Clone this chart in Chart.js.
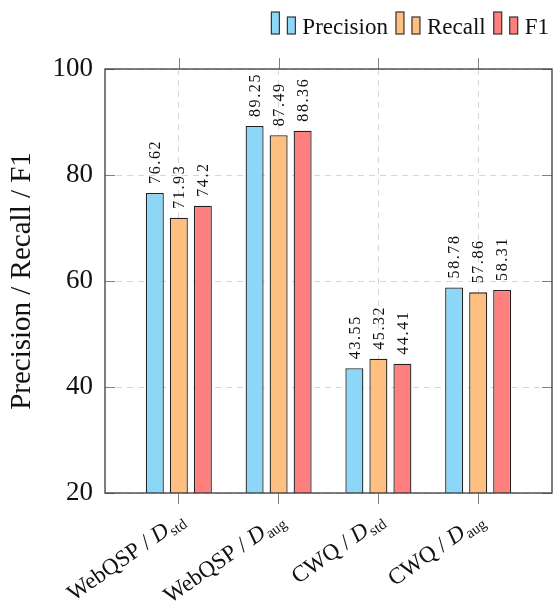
<!DOCTYPE html>
<html>
<head>
<meta charset="utf-8">
<script src="https://cdn.jsdelivr.net/npm/chart.js@4/dist/chart.umd.min.js"></script>
<style>
html,body{margin:0;padding:0;background:#fff;}
#wrap{width:554px;height:602px;}
</style>
</head>
<body>
<div id="wrap"><canvas id="c" width="554" height="602"></canvas></div>
<script>
const categories = ['WebQSP', 'WebQSP', 'CWQ', 'CWQ'];
const subscripts = ['std', 'aug', 'std', 'aug'];
const seriesNames = ['Precision', 'Recall', 'F1'];
const precision = [76.62, 89.25, 43.55, 58.78];
const recall = [71.93, 87.49, 45.32, 57.86];
const f1 = [74.2, 88.36, 44.41, 58.31];
const yTicks = [20, 40, 60, 80, 100];

const fills = ['#8CD7F7', '#FFBF80', '#FF7F7F'];
const SERIF = '"Liberation Serif", "DejaVu Serif", serif';
const series = [precision, recall, f1];

const datasets = series.map((vals, k) => ({
  label: seriesNames[k],
  data: vals.map((v, i) => ({x: i, y: v})),
  backgroundColor: fills[k],
  borderColor: '#222222',
  borderWidth: 1.3,
  borderSkipped: false,
  categoryPercentage: 0.722,
  barPercentage: 0.75
}));

const framePlugin = {
  id: 'frame',
  afterDraw(chart) {
    const ctx = chart.ctx, a = chart.chartArea;
    const xs = chart.scales.x, ys = chart.scales.y;
    ctx.save();
    ctx.strokeStyle = '#808080';
    ctx.lineWidth = 1;
    yTicks.forEach(v => {
      const y = Math.round(ys.getPixelForValue(v)) + 0.5;
      ctx.beginPath();
      ctx.moveTo(a.left, y); ctx.lineTo(a.left + 10, y);
      ctx.moveTo(a.right, y); ctx.lineTo(a.right - 10, y);
      ctx.stroke();
    });
    categories.forEach((c, i) => {
      const x = Math.round(xs.getPixelForValue(i)) + 0.5;
      ctx.beginPath();
      ctx.moveTo(x, a.top); ctx.lineTo(x, a.top - 11);
      ctx.stroke();
    });
    ctx.strokeStyle = '#3a3a3a';
    ctx.lineWidth = 1.3;
    ctx.strokeRect(a.left, a.top, a.right - a.left, a.bottom - a.top);
    ctx.restore();
  }
};

const valueLabelPlugin = {
  id: 'valueLabels',
  afterDatasetsDraw(chart) {
    const ctx = chart.ctx;
    ctx.save();
    ctx.fillStyle = '#111';
    ctx.font = '16px ' + SERIF;
    ctx.letterSpacing = '1.6px';
    ctx.textAlign = 'left';
    ctx.textBaseline = 'middle';
    chart.data.datasets.forEach((ds, k) => {
      const meta = chart.getDatasetMeta(k);
      meta.data.forEach((el, i) => {
        ctx.save();
        ctx.translate(el.x + 1, el.y - 9);
        ctx.rotate(-Math.PI / 2);
        ctx.fillText(String(series[k][i]), 0, 0);
        ctx.restore();
      });
    });
    ctx.restore();
  }
};

const xLabelPlugin = {
  id: 'xLabels',
  afterDraw(chart) {
    const ctx = chart.ctx, xs = chart.scales.x, a = chart.chartArea;
    ctx.save();
    ctx.fillStyle = '#111';
    const ang = -35 * Math.PI / 180;
    categories.forEach((c, i) => {
      const x = xs.getPixelForValue(i);
      const main = c + ' / ';
      const dSym = 'D';
      ctx.font = '23px ' + SERIF;
      const wMain = ctx.measureText(main).width;
      ctx.font = 'italic 23px ' + SERIF;
      const wD = ctx.measureText(dSym).width;
      ctx.font = '15px ' + SERIF;
      const wSub = ctx.measureText(subscripts[i]).width;
      const total = wMain + wD + 1 + wSub;
      ctx.save();
      ctx.translate(x + 7, a.bottom + 30);
      ctx.rotate(ang);
      ctx.textAlign = 'left';
      ctx.textBaseline = 'alphabetic';
      let px = -total;
      ctx.font = '23px ' + SERIF;
      ctx.fillText(main, px, 0); px += wMain;
      ctx.font = 'italic 23px ' + SERIF;
      ctx.fillText(dSym, px, 0); px += wD + 1;
      ctx.font = '15px ' + SERIF;
      ctx.fillText(subscripts[i], px, 4);
      ctx.restore();
    });
    ctx.restore();
  }
};

const legendPlugin = {
  id: 'customLegend',
  afterDraw(chart) {
    const ctx = chart.ctx;
    ctx.save();
    ctx.font = '23px ' + SERIF;
    ctx.textBaseline = 'alphabetic';
    let x = 549;
    const base = 34;
    for (let k = seriesNames.length - 1; k >= 0; k--) {
      const w = ctx.measureText(seriesNames[k]).width;
      x -= w;
      ctx.fillStyle = '#111';
      ctx.fillText(seriesNames[k], x, base);
      x -= 7;
      ctx.fillStyle = fills[k];
      ctx.strokeStyle = '#333';
      ctx.lineWidth = 1.2;
      ctx.fillRect(x - 8, 17, 8, base - 17);
      ctx.strokeRect(x - 8, 17, 8, base - 17);
      x -= 16;
      ctx.fillRect(x - 8, 12, 8, base - 12);
      ctx.strokeRect(x - 8, 12, 8, base - 12);
      x -= 8 + 8;
    }
    ctx.restore();
  }
};

new Chart(document.getElementById('c'), {
  type: 'bar',
  data: { datasets },
  options: {
    responsive: false,
    animation: false,
    devicePixelRatio: 1,
    layout: { padding: { left: 0, right: 2, top: 69, bottom: 0 } },
    plugins: {
      legend: { display: false },
      tooltip: { enabled: false }
    },
    scales: {
      x: {
        type: 'linear',
        min: -0.74,
        max: 3.74,
        offset: false,
        afterBuildTicks(scale) { scale.ticks = categories.map((c, i) => ({value: i})); },
        afterFit(scale) { scale.height = 109; },
        ticks: { display: false },
        grid: {
          offset: false,
          color: '#d6d6d6',
          lineWidth: 1,
          drawTicks: true,
          tickLength: 11,
          tickColor: '#808080',
          tickWidth: 1
        },
        border: { display: false, dash: [6, 5] }
      },
      y: {
        min: 20,
        max: 100,
        afterBuildTicks(scale) { scale.ticks = yTicks.map(v => ({value: v})); },
        afterFit(scale) { scale.width = 105; },
        ticks: {
          color: '#111',
          font: { family: SERIF, size: 27 },
          padding: 12
        },
        grid: { color: '#d6d6d6', lineWidth: 1, drawTicks: false },
        border: { display: false, dash: [6, 5] },
        title: {
          display: true,
          text: 'Precision / Recall / F1',
          color: '#111',
          font: { family: SERIF, size: 29 },
          padding: { top: 5, bottom: 0 }
        }
      }
    }
  },
  plugins: [framePlugin, valueLabelPlugin, xLabelPlugin, legendPlugin]
});
</script>
</body>
</html>
